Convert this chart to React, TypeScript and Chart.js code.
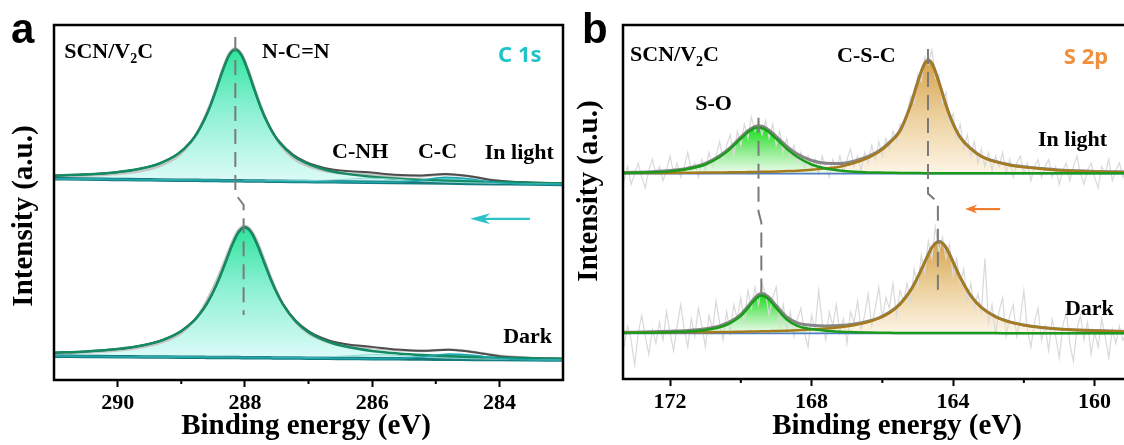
import React, { useEffect, useRef } from "react";
import { Chart, registerables } from "chart.js";
Chart.register(...registerables);

const TIMES = '"Times New Roman", "Liberation Serif", "DejaVu Serif", serif';
const SANS = '"Liberation Sans", Arial, sans-serif';
const TAG = '"Noto Sans", "Open Sans", sans-serif';

// ---------------- Panel a : C 1s ----------------
const cTickValues = [290, 288, 286, 284];
const cMinorTicks = [289, 287, 285];

const energyC_light = [291.0, 290.55, 290.05, 289.65, 289.35, 289.05, 288.85, 288.75, 288.65, 288.55, 288.45, 288.35, 288.25, 288.15, 288.05, 287.95, 287.85, 287.75, 287.65, 287.55, 287.45, 287.25, 287.05, 286.75, 286.45, 286.05, 285.65, 285.25, 284.85, 284.45, 284.05, 283.55, 283.0];
const baseC_light = [56.7, 56.6, 56.5, 56.42, 56.36, 56.3, 56.26, 56.24, 56.22, 56.2, 56.18, 56.16, 56.14, 56.12, 56.1, 56.08, 56.06, 56.04, 56.02, 56.0, 55.98, 55.94, 55.9, 55.84, 55.78, 55.7, 55.62, 55.54, 55.46, 55.38, 55.3, 55.2, 55.1];
const ncnC_light = [0.87, 1.26, 1.96, 3.06, 4.56, 7.4, 10.82, 13.31, 16.59, 20.67, 25.62, 30.9, 35.26, 37.0, 35.26, 30.9, 25.62, 20.67, 16.59, 13.31, 10.82, 7.4, 5.3, 3.46, 2.42, 1.62, 1.16, 0.87, 0.68, 0.54, 0.44, 0.35, 0.29];
const cnhC_light = [0.02, 0.02, 0.02, 0.03, 0.04, 0.04, 0.05, 0.05, 0.06, 0.06, 0.07, 0.07, 0.08, 0.08, 0.09, 0.1, 0.11, 0.12, 0.13, 0.15, 0.17, 0.21, 0.28, 0.43, 0.71, 1.17, 0.96, 0.51, 0.28, 0.17, 0.11, 0.07, 0.05];
const ccC_light = [0, 0, 0, 0, 0, 0, 0, 0, 0, 0, 0, 0, 0, 0, 0, 0, 0, 0, 0, 0, 0, 0, 0, 0, 0, 0.01, 0.11, 0.72, 1.64, 1.25, 0.32, 0.01, 0];
const rawC_light = [57.3, 57.5, 58.0, 58.8, 60.2, 63.0, 66.9, 69.8, 73.4, 77.5, 82.3, 87.6, 91.9, 93.4, 91.8, 87.6, 82.4, 77.3, 72.9, 69.2, 66.4, 62.6, 60.5, 58.9, 58.2, 57.9, 57.4, 57.4, 57.9, 57.3, 56.2, 55.6, 55.4];

const energyC_dark = [291.0, 290.5, 290.0, 289.6, 289.3, 289.0, 288.8, 288.7, 288.6, 288.5, 288.4, 288.3, 288.2, 288.1, 288.0, 287.9, 287.8, 287.7, 287.6, 287.5, 287.4, 287.2, 287.0, 286.7, 286.4, 286.0, 285.6, 285.2, 284.8, 284.4, 284.0, 283.5, 283.0];
const baseC_dark = [6.7, 6.63, 6.56, 6.51, 6.47, 6.43, 6.4, 6.39, 6.37, 6.36, 6.35, 6.33, 6.32, 6.31, 6.29, 6.28, 6.26, 6.25, 6.24, 6.22, 6.21, 6.18, 6.15, 6.11, 6.07, 6.01, 5.96, 5.9, 5.85, 5.79, 5.74, 5.67, 5.6];
const ncnC_dark = [0.99, 1.41, 2.16, 3.27, 4.73, 7.34, 10.31, 12.4, 15.04, 18.35, 22.38, 26.99, 31.64, 35.29, 36.7, 35.29, 31.64, 26.99, 22.38, 18.35, 15.04, 10.31, 7.34, 4.73, 3.27, 2.16, 1.53, 1.13, 0.87, 0.69, 0.56, 0.45, 0.36];
const cnhC_dark = [0.02, 0.02, 0.02, 0.03, 0.04, 0.04, 0.05, 0.05, 0.06, 0.06, 0.07, 0.07, 0.08, 0.08, 0.09, 0.1, 0.11, 0.12, 0.13, 0.15, 0.17, 0.21, 0.28, 0.43, 0.7, 1.15, 0.98, 0.55, 0.3, 0.18, 0.11, 0.07, 0.05];
const ccC_dark = [0, 0, 0, 0, 0, 0, 0, 0, 0, 0, 0, 0, 0, 0, 0, 0, 0, 0, 0, 0, 0, 0, 0, 0, 0, 0.01, 0.1, 0.65, 1.5, 1.15, 0.3, 0.01, 0];
const rawC_dark = [7.4, 7.8, 8.3, 9.3, 10.6, 13.2, 16.6, 19.2, 22.4, 25.9, 29.9, 34.4, 38.9, 42.3, 43.4, 42.2, 38.8, 34.2, 29.4, 25.0, 21.3, 16.2, 13.1, 10.7, 9.6, 9.0, 8.4, 8.2, 8.6, 7.9, 6.8, 6.2, 6.0];

const dashC_x = [288.15, 288.15, 288.02, 288.02];
const dashC_y = [96.6, 52.4, 49.3, 18.3];

// ---------------- Panel b : S 2p ----------------
const sTickValues = [172, 168, 164, 160];
const sMinorTicks = [170, 166, 162];

const energyS = [173.3, 172.5, 172.0, 171.5, 171.0, 170.6, 170.3, 170.0, 169.8, 169.6, 169.5, 169.4, 169.2, 169.0, 168.7, 168.4, 168.0, 167.6, 167.2, 166.8, 166.4, 166.1, 165.8, 165.5, 165.2, 165.0, 164.8, 164.7, 164.6, 164.4, 164.2, 164.0, 163.8, 163.5, 163.2, 162.8, 162.4, 162.0, 161.5, 161.0, 160.5, 160.0, 159.0];
const baseS_energy = [173.4, 159.0];
const baseS_light = [58.0, 58.0];
const baseS_dark = [12.9, 12.9];
const soS_light = [0.2, 0.39, 0.65, 1.3, 2.6, 4.7, 7.0, 9.9, 11.7, 12.9, 13.0, 12.9, 11.7, 9.9, 7.0, 4.7, 2.6, 1.45, 0.9, 0.55, 0.36, 0.3, 0.25, 0.2, 0.18, 0.16, 0.15, 0.15, 0.14, 0.13, 0.13, 0.13, 0.12, 0.12, 0.11, 0.11, 0.11, 0.1, 0.1, 0.1, 0.1, 0.1, 0.1];
const cscS_light = [0.16, 0.19, 0.22, 0.26, 0.3, 0.35, 0.38, 0.42, 0.45, 0.48, 0.5, 0.52, 0.56, 0.6, 0.73, 0.86, 1.12, 1.5, 1.98, 3.0, 4.5, 6.1, 8.6, 12.0, 19.3, 25.8, 31.1, 31.9, 31.1, 25.8, 19.3, 14.0, 10.2, 7.0, 4.8, 3.35, 2.4, 1.85, 1.37, 0.96, 0.7, 0.54, 0.38];
const soS_dark = [0.12, 0.2, 0.33, 0.5, 0.96, 1.71, 2.89, 4.92, 7.17, 9.52, 10.38, 10.7, 9.52, 7.17, 3.9, 2.1, 1.2, 0.75, 0.48, 0.33, 0.22, 0.17, 0.14, 0.12, 0.1, 0.1, 0.09, 0.09, 0.09, 0.08, 0.08, 0.08, 0.07, 0.07, 0.06, 0.06, 0.05, 0.05, 0.05, 0.04, 0.04, 0.04, 0.03];
const cscS_dark = [0.18, 0.22, 0.25, 0.29, 0.33, 0.37, 0.41, 0.46, 0.49, 0.53, 0.55, 0.57, 0.62, 0.67, 0.76, 0.88, 1.08, 1.35, 1.73, 2.31, 3.19, 4.21, 5.78, 8.21, 12.1, 15.8, 20.1, 22.3, 24.2, 25.9, 24.2, 20.1, 15.8, 10.6, 7.28, 4.66, 3.19, 2.31, 1.63, 1.2, 0.92, 0.73, 0.49];

const energyRawS = [
  173.3, 173.2, 173.1, 173.0, 172.9, 172.8, 172.7, 172.6, 172.5, 172.4,
  172.3, 172.2, 172.1, 172.0, 171.9, 171.8, 171.7, 171.6, 171.5, 171.4,
  171.3, 171.2, 171.1, 171.0, 170.9, 170.8, 170.7, 170.6, 170.5, 170.4,
  170.3, 170.2, 170.1, 170.0, 169.9, 169.8, 169.7, 169.6, 169.5, 169.4,
  169.3, 169.2, 169.1, 169.0, 168.9, 168.8, 168.7, 168.6, 168.5, 168.4,
  168.3, 168.2, 168.1, 168.0, 167.9, 167.8, 167.7, 167.6, 167.5, 167.4,
  167.3, 167.2, 167.1, 167.0, 166.9, 166.8, 166.7, 166.6, 166.5, 166.4,
  166.3, 166.2, 166.1, 166.0, 165.9, 165.8, 165.7, 165.6, 165.5, 165.4,
  165.3, 165.2, 165.1, 165.0, 164.9, 164.8, 164.7, 164.6, 164.5, 164.4,
  164.3, 164.2, 164.1, 164.0, 163.9, 163.8, 163.7, 163.6, 163.5, 163.4,
  163.3, 163.2, 163.1, 163.0, 162.9, 162.8, 162.7, 162.6, 162.5, 162.4,
  162.3, 162.2, 162.1, 162.0, 161.9, 161.8, 161.7, 161.6, 161.5, 161.4,
  161.3, 161.2, 161.1, 161.0, 160.9, 160.8, 160.7, 160.6, 160.5, 160.4,
  160.3, 160.2, 160.1, 160.0, 159.9, 159.8, 159.7, 159.6, 159.5, 159.4,
  159.3, 159.2, 159.1,
];
const rawS_light = [
  56, 60, 55, 58, 61, 57, 54, 59, 62, 58,
  60, 56, 59, 63, 58, 61, 57, 60, 64, 59,
  61, 57, 62, 59, 64, 60, 63, 67, 62, 66,
  69, 63, 70, 66, 72, 68, 74, 70, 73, 69,
  73, 68, 72, 66, 70, 64, 68, 63, 66, 61,
  64, 60, 63, 59, 62, 58, 63, 60, 57, 62,
  59, 63, 58, 62, 65, 60, 63, 59, 64, 61,
  66, 62, 67, 63, 68, 65, 70, 67, 72, 70,
  74, 80, 78, 86, 84, 91, 89, 93, 85, 86,
  78, 81, 72, 75, 68, 72, 65, 69, 63, 67,
  61, 65, 60, 64, 59, 63, 60, 64, 58, 62,
  57, 61, 63, 58, 61, 56, 60, 62, 57, 60,
  62, 57, 60, 55, 59, 61, 56, 60, 63, 58,
  55, 59, 61, 57, 54, 60, 58, 62, 56, 59,
  61, 57, 59,
];
const rawS_dark = [
  9, 15, 11, 4, 13, 18, 12, 7, 14, 10,
  16, 11, 19, 13, 8, 15, 21, 14, 9, 17,
  12, 20, 15, 9, 18, 14, 22, 16, 11, 19,
  13, 21, 17, 23, 16, 25, 20, 26, 21, 27,
  24, 18, 23, 26, 15, 21, 14, 19, 12, 17,
  20, 13, 9, 18, 14, 25, 16, 11, 19, 15,
  21, 13, 17, 10, 19, 16, 22, 14, 18, 24,
  15, 20, 26, 17, 23, 20, 27, 18, 25, 22,
  27, 22, 31, 26, 35, 30, 39, 34, 43, 36,
  40, 34, 38, 29, 34, 27, 31, 22, 27, 20,
  24, 19, 34, 16, 21, 13, 19, 23, 12, 18,
  21, 12, 17, 25, 14, 9, 16, 20, 11, 15,
  8, 17, 12, 6, 15, 19, 10, 5, 14, 18,
  11, 16, 7, 13, 9, 17, 12, 6, 14, 10,
  15, 11, 13,
];

const dashSO_x = [169.5, 169.5, 169.42, 169.42];
const dashSO_y = [73.8, 47.3, 44.2, 24.5];
const dashCSC_x = [164.71, 164.71, 164.43, 164.43];
const dashCSC_y = [93.2, 52.4, 49.9, 23.1];

// ---------------- helpers ----------------
const pts = (xs: number[], ys: number[]) => xs.map((x, i) => ({ x, y: ys[i] }));
const sum = (...arrs: number[][]) => arrs[0].map((_, i) => arrs.reduce((s, a) => s + a[i], 0));
const plus = (arr: number[], k: number) => arr.map((v) => v + k);

function grad(chart: any, top: number, bottom: number, stops: [number, string][]) {
  const { chartArea, scales, ctx } = chart;
  if (!chartArea || !scales || !scales.y) return stops[stops.length - 1][1];
  const y0 = scales.y.getPixelForValue(top);
  const y1 = scales.y.getPixelForValue(bottom);
  const g = ctx.createLinearGradient(0, y0, 0, y1);
  for (const [o, c] of stops) g.addColorStop(o, c);
  return g;
}

function ln(data: any[], color: string, width: number, order: number, extra: any = {}) {
  return {
    type: "line",
    data,
    borderColor: color,
    borderWidth: width,
    pointRadius: 0,
    fill: false,
    order,
    cubicInterpolationMode: "monotone",
    ...extra,
  };
}

type Lbl = { t: string; x: number; y: number; font: string; color: string; sub?: boolean };

function decor(cfg: any) {
  return {
    id: "decor",
    afterDraw(chart: any) {
      const { ctx, chartArea: a, scales } = chart;
      const xs = scales.x, ys = scales.y;
      ctx.save();
      ctx.strokeStyle = "#000";
      ctx.lineWidth = 2.5;
      ctx.strokeRect(a.left, a.top, a.right - a.left, a.bottom - a.top);
      ctx.lineWidth = 2;
      for (const v of cfg.minor) {
        const px = xs.getPixelForValue(v);
        ctx.beginPath();
        ctx.moveTo(px, a.bottom);
        ctx.lineTo(px, a.bottom + 4);
        ctx.stroke();
      }
      ctx.textBaseline = "alphabetic";
      ctx.textAlign = "left";
      for (const l of cfg.labels as Lbl[]) {
        const px = xs.getPixelForValue(l.x);
        const py = ys.getPixelForValue(l.y);
        ctx.fillStyle = l.color;
        ctx.font = l.font;
        if (l.sub) {
          ctx.fillText("SCN/V", px, py);
          const w1 = ctx.measureText("SCN/V").width;
          ctx.font = `bold 14px ${TIMES}`;
          ctx.fillText("2", px + w1, py + 5);
          const w2 = ctx.measureText("2").width;
          ctx.font = l.font;
          ctx.fillText("C", px + w1 + w2, py);
        } else {
          ctx.fillText(l.t, px, py);
        }
      }
      const ar = cfg.arrow;
      const x0 = xs.getPixelForValue(ar.from);
      const x1 = xs.getPixelForValue(ar.to);
      const py = ys.getPixelForValue(ar.y);
      ctx.strokeStyle = ar.color;
      ctx.fillStyle = ar.color;
      ctx.lineWidth = 2.2;
      ctx.beginPath();
      ctx.moveTo(x0, py);
      ctx.lineTo(x1 + ar.head * 0.6, py);
      ctx.stroke();
      ctx.beginPath();
      ctx.moveTo(x1, py);
      ctx.lineTo(x1 + ar.head, py - ar.half);
      ctx.lineTo(x1 + ar.head * 0.7, py);
      ctx.lineTo(x1 + ar.head, py + ar.half);
      ctx.closePath();
      ctx.fill();

      ctx.fillStyle = "#000";
      ctx.font = `bold 29px ${TIMES}`;
      ctx.textAlign = "center";
      ctx.fillText("Binding energy (eV)", cfg.xTitle[0], cfg.xTitle[1]);
      ctx.save();
      ctx.translate(cfg.yTitle[0], cfg.yTitle[1]);
      ctx.rotate(-Math.PI / 2);
      ctx.fillText("Intensity (a.u.)", 0, 0);
      ctx.restore();
      ctx.textAlign = "left";
      ctx.font = `bold 42px ${SANS}`;
      ctx.fillText(cfg.letter, cfg.letterPos[0], cfg.letterPos[1]);
      ctx.restore();
    },
  };
}

function baseOptions(min: number, max: number, tickValues: number[], padLeft: number, padRight: number, xHeight: number) {
  return {
    responsive: false,
    animation: false,
    events: [],
    layout: { padding: { top: 25, right: padRight, bottom: 0, left: padLeft } },
    plugins: {
      legend: { display: false },
      tooltip: { enabled: false },
      filler: { propagate: false, drawTime: "beforeDatasetsDraw" },
    },
    scales: {
      x: {
        type: "linear",
        reverse: true,
        min,
        max,
        afterBuildTicks: (s: any) => {
          s.ticks = tickValues.map((v) => ({ value: v }));
        },
        afterFit: (s: any) => {
          s.height = xHeight;
        },
        ticks: {
          font: { family: TIMES, size: 22, weight: "bold" },
          color: "#000",
          padding: 3,
          maxRotation: 0,
          autoSkip: false,
        },
        grid: { display: true, drawOnChartArea: false, drawTicks: true, tickLength: 7, tickWidth: 2, tickColor: "#000" },
        border: { display: false },
      },
      y: { type: "linear", min: 0, max: 100, display: false },
    },
  };
}

function configC() {
  const envL = sum(baseC_light, ncnC_light, cnhC_light, ccC_light);
  const envD = sum(baseC_dark, ncnC_dark, cnhC_dark, ccC_dark);
  const ncnL = sum(baseC_light, ncnC_light);
  const cnhL = sum(baseC_light, cnhC_light);
  const ccL = sum(baseC_light, ccC_light);
  const ncnD = sum(baseC_dark, ncnC_dark);
  const cnhD = sum(baseC_dark, cnhC_dark);
  const ccD = sum(baseC_dark, ccC_dark);
  const topL = Math.max(...ncnL), topD = Math.max(...ncnD);
  const ccTopL = Math.max(...ccL), ccTopD = Math.max(...ccD);
  const ncnStops: [number, string][] = [[0, "#2fe49d"], [0.45, "#8af0d2"], [1, "#dcfbf8"]];
  const ccStops: [number, string][] = [[0, "#3ccbcf"], [1, "#b4eeee"]];
  const datasets = [
    ln(pts(energyC_light, rawC_light), "#c6c6c6", 2.5, 60),
    ln(pts(energyC_dark, rawC_dark), "#c6c6c6", 2.5, 60),
    ln(pts(energyC_light, envL), "#4d4d4d", 2, 50),
    ln(pts(energyC_dark, envD), "#4d4d4d", 2, 50),
    ln(pts(energyC_light, baseC_light), "#177b7e", 3.5, 40),
    ln(pts(energyC_dark, baseC_dark), "#177b7e", 3.5, 40),
    ln(pts(energyC_light, ncnL), "#138a62", 2.5, 33, {
      fill: 4,
      backgroundColor: (c: any) => grad(c.chart, topL, 56.1, ncnStops),
    }),
    ln(pts(energyC_light, cnhL), "#8fd9d2", 1, 32, { fill: 4, backgroundColor: "#c6f4ef" }),
    ln(pts(energyC_light, ccL), "#1ea6ad", 1.5, 31, {
      fill: 4,
      backgroundColor: (c: any) => grad(c.chart, ccTopL, 55.4, ccStops),
    }),
    ln(pts(energyC_dark, ncnD), "#138a62", 2.5, 33, {
      fill: 5,
      backgroundColor: (c: any) => grad(c.chart, topD, 6.3, ncnStops),
    }),
    ln(pts(energyC_dark, cnhD), "#8fd9d2", 1, 32, { fill: 5, backgroundColor: "#c6f4ef" }),
    ln(pts(energyC_dark, ccD), "#1ea6ad", 1.5, 31, {
      fill: 5,
      backgroundColor: (c: any) => grad(c.chart, ccTopD, 5.8, ccStops),
    }),
    ln(pts(dashC_x, dashC_y), "#7a7a7a", 2, 5, { borderDash: [15, 8], cubicInterpolationMode: "default", tension: 0 }),
  ];
  const labels: Lbl[] = [
    { t: "SCN/V2C", x: 290.84, y: 90.7, font: `bold 22px ${TIMES}`, color: "#000", sub: true },
    { t: "N-C=N", x: 287.73, y: 90.7, font: `bold 22px ${TIMES}`, color: "#000" },
    { t: "C 1s", x: 284.02, y: 89.6, font: `bold 22px ${TAG}`, color: "#1fc3c8" },
    { t: "C-NH", x: 286.63, y: 62.5, font: `bold 22px ${TIMES}`, color: "#000" },
    { t: "C-C", x: 285.28, y: 62.5, font: `bold 22px ${TIMES}`, color: "#000" },
    { t: "In light", x: 284.23, y: 62.3, font: `bold 22px ${TIMES}`, color: "#000" },
    { t: "Dark", x: 283.94, y: 10.4, font: `bold 22px ${TIMES}`, color: "#000" },
  ];
  return {
    type: "line",
    data: { datasets },
    options: baseOptions(283, 291, cTickValues, 54, 7, 65),
    plugins: [
      decor({
        minor: cMinorTicks,
        labels,
        arrow: { from: 283.52, to: 284.46, y: 45.4, color: "#2cc3c8", head: 20, half: 5.5 },
        xTitle: [306, 434],
        yTitle: [32, 216],
        letter: "a",
        letterPos: [11, 43],
      }),
    ],
  };
}

function configS() {
  const bL = baseS_light[0], bD = baseS_dark[0];
  const soL = plus(soS_light, bL), cscL = plus(cscS_light, bL);
  const soD = plus(soS_dark, bD), cscD = plus(cscS_dark, bD);
  const envL = plus(sum(soS_light, cscS_light), bL);
  const envD = plus(sum(soS_dark, cscS_dark), bD);
  const soStops: [number, string][] = [[0, "#19e019"], [0.5, "#8eec8e"], [1, "#eefcee"]];
  const cscStops: [number, string][] = [[0, "#d6a34d"], [0.5, "#edd19e"], [1, "#fdf5e6"]];
  const topSOL = Math.max(...soL), topCSCL = Math.max(...cscL);
  const topSOD = Math.max(...soD), topCSCD = Math.max(...cscD);
  const datasets = [
    ln(pts(energyRawS, rawS_light), "#d9d9d9", 1.2, 60, { cubicInterpolationMode: "default", tension: 0 }),
    ln(pts(energyRawS, rawS_dark), "#d9d9d9", 1.2, 60, { cubicInterpolationMode: "default", tension: 0 }),
    ln(pts(energyS, envL), "#858585", 3, 50),
    ln(pts(energyS, envD), "#858585", 3, 50),
    ln(pts(baseS_energy, baseS_light), "#4f80c0", 1.8, 40, { cubicInterpolationMode: "default" }),
    ln(pts(baseS_energy, baseS_dark), "#4f80c0", 1.8, 40, { cubicInterpolationMode: "default" }),
    ln(pts(energyS, soL), "#1c9a1c", 2.5, 31, {
      fill: { value: bL },
      backgroundColor: (c: any) => grad(c.chart, topSOL, bL, soStops),
    }),
    ln(pts(energyS, cscL), "#a67b1e", 2.5, 32, {
      fill: { value: bL },
      backgroundColor: (c: any) => grad(c.chart, topCSCL, bL, cscStops),
    }),
    ln(pts(energyS, soD), "#1c9a1c", 2.5, 31, {
      fill: { value: bD },
      backgroundColor: (c: any) => grad(c.chart, topSOD, bD, soStops),
    }),
    ln(pts(energyS, cscD), "#a67b1e", 2.5, 32, {
      fill: { value: bD },
      backgroundColor: (c: any) => grad(c.chart, topCSCD, bD, cscStops),
    }),
    ln(pts(dashSO_x, dashSO_y), "#7a7a7a", 2, 5, { borderDash: [15, 8], cubicInterpolationMode: "default", tension: 0 }),
    ln(pts(dashCSC_x, dashCSC_y), "#7a7a7a", 2, 5, { borderDash: [15, 8], cubicInterpolationMode: "default", tension: 0 }),
  ];
  const labels: Lbl[] = [
    { t: "SCN/V2C", x: 173.13, y: 89.8, font: `bold 22px ${TIMES}`, color: "#000", sub: true },
    { t: "S-O", x: 171.29, y: 76.0, font: `bold 22px ${TIMES}`, color: "#000" },
    { t: "C-S-C", x: 167.28, y: 89.5, font: `bold 22px ${TIMES}`, color: "#000" },
    { t: "S 2p", x: 160.87, y: 89.0, font: `bold 22px ${TAG}`, color: "#f0903c" },
    { t: "In light", x: 161.6, y: 65.8, font: `bold 22px ${TIMES}`, color: "#000" },
    { t: "Dark", x: 160.84, y: 18.1, font: `bold 22px ${TIMES}`, color: "#000" },
  ];
  return {
    type: "line",
    data: { datasets },
    options: baseOptions(159, 173.33, sTickValues, 53, 4, 66),
    plugins: [
      decor({
        minor: sMinorTicks,
        labels,
        arrow: { from: 162.67, to: 163.66, y: 48.0, color: "#f07c2c", head: 12, half: 4.5 },
        xTitle: [327, 434],
        yTitle: [27, 191],
        letter: "b",
        letterPos: [12, 43],
      }),
    ],
  };
}

function Panel({ make, left, width }: { make: () => any; left: number; width: number }) {
  const ref = useRef<HTMLCanvasElement>(null);
  useEffect(() => {
    const chart = new Chart(ref.current as HTMLCanvasElement, make());
    return () => chart.destroy();
  }, []);
  return (
    <canvas
      ref={ref}
      width={width}
      height={445}
      style={{ position: "absolute", left, top: 0, width, height: 445 }}
    />
  );
}

export default function App() {
  return (
    <div
      style={{
        position: "absolute",
        left: 0,
        top: 0,
        width: 1124,
        height: 445,
        overflow: "hidden",
        background: "#fff",
      }}
    >
      <Panel make={configC} left={0} width={570} />
      <Panel make={configS} left={570} width={564} />
    </div>
  );
}
